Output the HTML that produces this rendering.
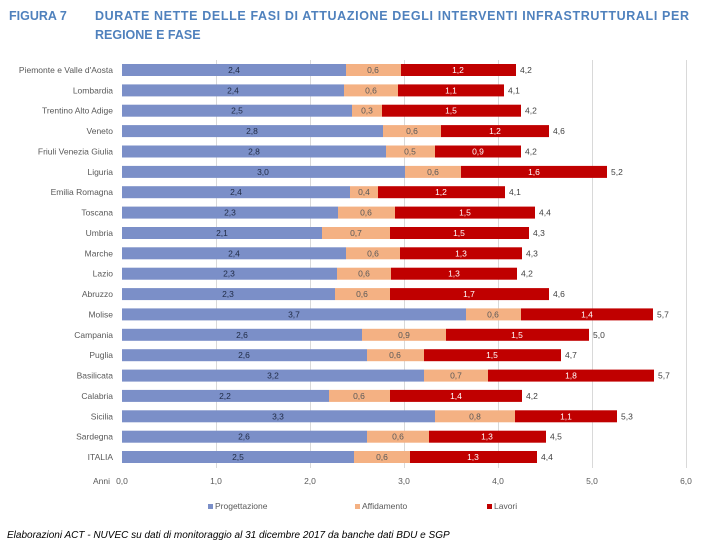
<!DOCTYPE html>
<html><head><meta charset="utf-8"><style>
body{margin:0;background:#fff;width:709px;height:554px;overflow:hidden;font-family:"Liberation Sans",sans-serif}
.l{fill:#595959;text-anchor:end}.a{fill:#1f2a44;text-anchor:middle}.b{fill:#595959;text-anchor:middle}.c{fill:#fff;text-anchor:middle}.t{fill:#404040}
.p{fill:#7b8fc8}.f{fill:#f4b183}.r{fill:#c00000}
</style></head><body>
<svg width="709" height="554" xmlns="http://www.w3.org/2000/svg" font-family="Liberation Sans, sans-serif">
<text x="9" y="20" font-size="12.5" font-weight="bold" fill="#4f81bd">FIGURA 7</text>
<text x="95" y="20" font-size="12.5" font-weight="bold" fill="#4f81bd" textLength="594" lengthAdjust="spacing">DURATE NETTE DELLE FASI DI ATTUAZIONE DEGLI INTERVENTI INFRASTRUTTURALI PER</text>
<text x="95" y="39" font-size="12.5" font-weight="bold" fill="#4f81bd">REGIONE E FASE</text>
<g stroke="#d9d9d9" stroke-width="1">
<line x1="216.5" y1="60" x2="216.5" y2="468"/><line x1="310.5" y1="60" x2="310.5" y2="468"/>
<line x1="404.5" y1="60" x2="404.5" y2="468"/><line x1="498.5" y1="60" x2="498.5" y2="468"/>
<line x1="592.5" y1="60" x2="592.5" y2="468"/><line x1="686.5" y1="60" x2="686.5" y2="468"/>
</g>
<g font-size="8.5">
<g transform="translate(0,70)"><text x="113" y="3" class="l">Piemonte e Valle d'Aosta</text><rect x="122" y="-6" width="224" height="12" class="p"/><rect x="346" y="-6" width="55" height="12" class="f"/><rect x="401" y="-6" width="115" height="12" class="r"/><text x="234" y="3" class="a">2,4</text><text x="373" y="3" class="b">0,6</text><text x="458" y="3" class="c">1,2</text><text x="520" y="3" class="t">4,2</text></g>
<g transform="translate(0,90.4)"><text x="113" y="3" class="l">Lombardia</text><rect x="122" y="-6" width="222" height="12" class="p"/><rect x="344" y="-6" width="54" height="12" class="f"/><rect x="398" y="-6" width="106" height="12" class="r"/><text x="233" y="3" class="a">2,4</text><text x="371" y="3" class="b">0,6</text><text x="451" y="3" class="c">1,1</text><text x="508" y="3" class="t">4,1</text></g>
<g transform="translate(0,110.7)"><text x="113" y="3" class="l">Trentino Alto Adige</text><rect x="122" y="-6" width="230" height="12" class="p"/><rect x="352" y="-6" width="30" height="12" class="f"/><rect x="382" y="-6" width="139" height="12" class="r"/><text x="237" y="3" class="a">2,5</text><text x="367" y="3" class="b">0,3</text><text x="451" y="3" class="c">1,5</text><text x="525" y="3" class="t">4,2</text></g>
<g transform="translate(0,131.1)"><text x="113" y="3" class="l">Veneto</text><rect x="122" y="-6" width="261" height="12" class="p"/><rect x="383" y="-6" width="58" height="12" class="f"/><rect x="441" y="-6" width="108" height="12" class="r"/><text x="252" y="3" class="a">2,8</text><text x="412" y="3" class="b">0,6</text><text x="495" y="3" class="c">1,2</text><text x="553" y="3" class="t">4,6</text></g>
<g transform="translate(0,151.5)"><text x="113" y="3" class="l">Friuli Venezia Giulia</text><rect x="122" y="-6" width="264" height="12" class="p"/><rect x="386" y="-6" width="49" height="12" class="f"/><rect x="435" y="-6" width="86" height="12" class="r"/><text x="254" y="3" class="a">2,8</text><text x="410" y="3" class="b">0,5</text><text x="478" y="3" class="c">0,9</text><text x="525" y="3" class="t">4,2</text></g>
<g transform="translate(0,171.9)"><text x="113" y="3" class="l">Liguria</text><rect x="122" y="-6" width="283" height="12" class="p"/><rect x="405" y="-6" width="56" height="12" class="f"/><rect x="461" y="-6" width="146" height="12" class="r"/><text x="263" y="3" class="a">3,0</text><text x="433" y="3" class="b">0,6</text><text x="534" y="3" class="c">1,6</text><text x="611" y="3" class="t">5,2</text></g>
<g transform="translate(0,192.2)"><text x="113" y="3" class="l">Emilia Romagna</text><rect x="122" y="-6" width="228" height="12" class="p"/><rect x="350" y="-6" width="28" height="12" class="f"/><rect x="378" y="-6" width="127" height="12" class="r"/><text x="236" y="3" class="a">2,4</text><text x="364" y="3" class="b">0,4</text><text x="441" y="3" class="c">1,2</text><text x="509" y="3" class="t">4,1</text></g>
<g transform="translate(0,212.6)"><text x="113" y="3" class="l">Toscana</text><rect x="122" y="-6" width="216" height="12" class="p"/><rect x="338" y="-6" width="57" height="12" class="f"/><rect x="395" y="-6" width="140" height="12" class="r"/><text x="230" y="3" class="a">2,3</text><text x="366" y="3" class="b">0,6</text><text x="465" y="3" class="c">1,5</text><text x="539" y="3" class="t">4,4</text></g>
<g transform="translate(0,233)"><text x="113" y="3" class="l">Umbria</text><rect x="122" y="-6" width="200" height="12" class="p"/><rect x="322" y="-6" width="68" height="12" class="f"/><rect x="390" y="-6" width="139" height="12" class="r"/><text x="222" y="3" class="a">2,1</text><text x="356" y="3" class="b">0,7</text><text x="459" y="3" class="c">1,5</text><text x="533" y="3" class="t">4,3</text></g>
<g transform="translate(0,253.3)"><text x="113" y="3" class="l">Marche</text><rect x="122" y="-6" width="224" height="12" class="p"/><rect x="346" y="-6" width="54" height="12" class="f"/><rect x="400" y="-6" width="122" height="12" class="r"/><text x="234" y="3" class="a">2,4</text><text x="373" y="3" class="b">0,6</text><text x="461" y="3" class="c">1,3</text><text x="526" y="3" class="t">4,3</text></g>
<g transform="translate(0,273.7)"><text x="113" y="3" class="l">Lazio</text><rect x="122" y="-6" width="215" height="12" class="p"/><rect x="337" y="-6" width="54" height="12" class="f"/><rect x="391" y="-6" width="126" height="12" class="r"/><text x="229" y="3" class="a">2,3</text><text x="364" y="3" class="b">0,6</text><text x="454" y="3" class="c">1,3</text><text x="521" y="3" class="t">4,2</text></g>
<g transform="translate(0,294.1)"><text x="113" y="3" class="l">Abruzzo</text><rect x="122" y="-6" width="213" height="12" class="p"/><rect x="335" y="-6" width="55" height="12" class="f"/><rect x="390" y="-6" width="159" height="12" class="r"/><text x="228" y="3" class="a">2,3</text><text x="362" y="3" class="b">0,6</text><text x="469" y="3" class="c">1,7</text><text x="553" y="3" class="t">4,6</text></g>
<g transform="translate(0,314.4)"><text x="113" y="3" class="l">Molise</text><rect x="122" y="-6" width="344" height="12" class="p"/><rect x="466" y="-6" width="55" height="12" class="f"/><rect x="521" y="-6" width="132" height="12" class="r"/><text x="294" y="3" class="a">3,7</text><text x="493" y="3" class="b">0,6</text><text x="587" y="3" class="c">1,4</text><text x="657" y="3" class="t">5,7</text></g>
<g transform="translate(0,334.8)"><text x="113" y="3" class="l">Campania</text><rect x="122" y="-6" width="240" height="12" class="p"/><rect x="362" y="-6" width="84" height="12" class="f"/><rect x="446" y="-6" width="143" height="12" class="r"/><text x="242" y="3" class="a">2,6</text><text x="404" y="3" class="b">0,9</text><text x="517" y="3" class="c">1,5</text><text x="593" y="3" class="t">5,0</text></g>
<g transform="translate(0,355.2)"><text x="113" y="3" class="l">Puglia</text><rect x="122" y="-6" width="245" height="12" class="p"/><rect x="367" y="-6" width="57" height="12" class="f"/><rect x="424" y="-6" width="137" height="12" class="r"/><text x="244" y="3" class="a">2,6</text><text x="395" y="3" class="b">0,6</text><text x="492" y="3" class="c">1,5</text><text x="565" y="3" class="t">4,7</text></g>
<g transform="translate(0,375.6)"><text x="113" y="3" class="l">Basilicata</text><rect x="122" y="-6" width="302" height="12" class="p"/><rect x="424" y="-6" width="64" height="12" class="f"/><rect x="488" y="-6" width="166" height="12" class="r"/><text x="273" y="3" class="a">3,2</text><text x="456" y="3" class="b">0,7</text><text x="571" y="3" class="c">1,8</text><text x="658" y="3" class="t">5,7</text></g>
<g transform="translate(0,395.9)"><text x="113" y="3" class="l">Calabria</text><rect x="122" y="-6" width="207" height="12" class="p"/><rect x="329" y="-6" width="61" height="12" class="f"/><rect x="390" y="-6" width="132" height="12" class="r"/><text x="225" y="3" class="a">2,2</text><text x="359" y="3" class="b">0,6</text><text x="456" y="3" class="c">1,4</text><text x="526" y="3" class="t">4,2</text></g>
<g transform="translate(0,416.3)"><text x="113" y="3" class="l">Sicilia</text><rect x="122" y="-6" width="313" height="12" class="p"/><rect x="435" y="-6" width="80" height="12" class="f"/><rect x="515" y="-6" width="102" height="12" class="r"/><text x="278" y="3" class="a">3,3</text><text x="475" y="3" class="b">0,8</text><text x="566" y="3" class="c">1,1</text><text x="621" y="3" class="t">5,3</text></g>
<g transform="translate(0,436.7)"><text x="113" y="3" class="l">Sardegna</text><rect x="122" y="-6" width="245" height="12" class="p"/><rect x="367" y="-6" width="62" height="12" class="f"/><rect x="429" y="-6" width="117" height="12" class="r"/><text x="244" y="3" class="a">2,6</text><text x="398" y="3" class="b">0,6</text><text x="487" y="3" class="c">1,3</text><text x="550" y="3" class="t">4,5</text></g>
<g transform="translate(0,457)"><text x="113" y="3" class="l">ITALIA</text><rect x="122" y="-6" width="232" height="12" class="p"/><rect x="354" y="-6" width="56" height="12" class="f"/><rect x="410" y="-6" width="127" height="12" class="r"/><text x="238" y="3" class="a">2,5</text><text x="382" y="3" class="b">0,6</text><text x="473" y="3" class="c">1,3</text><text x="541" y="3" class="t">4,4</text></g>
</g>
<g font-size="8.5" fill="#595959">
<text x="110" y="484" text-anchor="end">Anni</text>
<text x="122" y="484" text-anchor="middle">0,0</text><text x="216" y="484" text-anchor="middle">1,0</text>
<text x="310" y="484" text-anchor="middle">2,0</text><text x="404" y="484" text-anchor="middle">3,0</text>
<text x="498" y="484" text-anchor="middle">4,0</text><text x="592" y="484" text-anchor="middle">5,0</text>
<text x="686" y="484" text-anchor="middle">6,0</text>
<rect x="208" y="504" width="5" height="5" fill="#7b8fc8"/><text x="215" y="509">Progettazione</text>
<rect x="355" y="504" width="5" height="5" fill="#f4b183"/><text x="362" y="509">Affidamento</text>
<rect x="487" y="504" width="5" height="5" fill="#c00000"/><text x="494" y="509">Lavori</text>
</g>
<text x="7" y="538" font-size="10" font-style="italic" fill="#000">Elaborazioni ACT - NUVEC su dati di monitoraggio al 31 dicembre 2017 da banche dati BDU e SGP</text>
</svg>
</body></html>
